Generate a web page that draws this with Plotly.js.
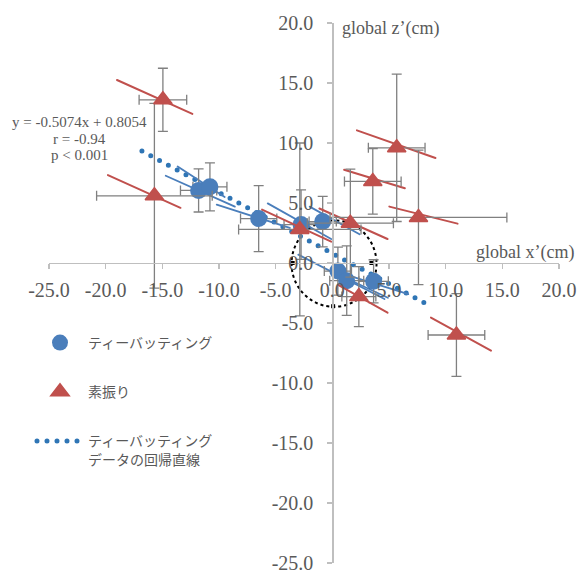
<!DOCTYPE html>
<html>
<head>
<meta charset="utf-8">
<script src="https://cdn.plot.ly/plotly-3.0.1.min.js"></script>
<style>
html,body{margin:0;padding:0;background:#fff;}
#chart{width:579px;height:574px;}
#chart path.js-line{stroke-linecap:round;}
</style>
</head>
<body>
<div id="chart"></div>
<script>
// ---- data ----
const blueName = 'ティーバッティング';
const redName = '素振り';
const regName = 'ティーバッティング<br>データの回帰直線';

const blueX = [-11.8, -10.8, -6.5, -2.76, -0.85, 0.49, 1.27, 3.64];
const blueZ = [6.05, 6.35, 3.7, 3.2, 3.45, -0.67, -1.47, -1.53];
const blueXErr = [1.6, 1.5, 1.6, 1.5, 1.2, 1.2, 1.5, 1.3];
const blueZErr = [1.8, 2.0, 2.75, 2.9, 2.1, 2.0, 2.9, 1.8];

const blueSegX0 = [-14.7, -13.65, -10.2, -5.7, -2.0, -3.0, 0.6, -0.1];
const blueSegY0 = [7.27, 8.04, 4.86, 4.97, 4.7, 0.7, -1.0, -0.6];
const blueSegX1 = [-8.6, -9.5, -3.75, -0.1, 2.4, 4.6, 4.9, 6.7];
const blueSegY1 = [4.7, 5.5, 2.92, 2.0, 2.4, -3.0, -2.9, -2.6];

const redX = [-14.95, -15.7, -2.87, 1.59, 3.57, 5.68, 7.6, 2.34, 10.95];
const redZ = [13.6, 5.6, 2.8, 3.32, 6.8, 9.6, 3.8, -2.8, -6.0];
const redXErr = [2.1, 5.1, 5.4, 3.8, 2.5, 2.5, 7.8, 1.5, 2.5];
const redZErr = [2.63, 7.7, 7.2, 4.5, 2.73, 6.14, 5.6, 2.5, 3.45];

const redSegX0 = [-19.0, -19.8, -6.2, -1.14, 1.04, 2.17, 5.03, 0.55, 8.7];
const redSegY0 = [15.25, 7.33, 4.45, 4.54, 7.77, 11.05, 4.7, -1.84, -4.55];
const redSegX1 = [-12.35, -13.4, -0.1, 4.87, 6.4, 9.1, 11.05, 4.87, 14.0];
const redSegY1 = [12.43, 4.6, 1.78, 2.0, 6.23, 8.75, 3.28, -4.14, -7.3];

const regX = [-16.8, 8.7];
const regY = [9.33, -3.61];

const circlePtX = [-3.5, 3.45, 0.07];
const circlePtY = [0, 0, -3.6];

const tickVals = [-25, -20, -15, -10, -5, 0, 5, 10, 15, 20];
const tickText = ['-25.0', '-20.0', '-15.0', '-10.0', '-5.0', '0.0', '5.0', '10.0', '15.0', '20.0'];

const eqLines = ['y = -0.5074x + 0.8054', 'r = -0.94', 'p &lt; 0.001'];
const xTitle = 'global x’(cm)';
const zTitle = 'global z’(cm)';

// ---- helpers ----
function segs(x0, y0, x1, y1) {
  const xs = [], ys = [];
  for (let i = 0; i < x0.length; i++) {
    xs.push(x0[i], x1[i], null);
    ys.push(y0[i], y1[i], null);
  }
  return {xs, ys};
}
const bs = segs(blueSegX0, blueSegY0, blueSegX1, blueSegY1);
const rs = segs(redSegX0, redSegY0, redSegX1, redSegY1);

const BLUE = '#4a7ebb', RED = '#c0504d', GRAY = '#808080', TXT = '#595959';
const errStyle = {type: 'data', color: GRAY, thickness: 1.3, width: 5};

const traces = [
  {x: regX, y: regY, mode: 'lines', name: regName, legendrank: 3, legendgroup: 'c',
   line: {color: '#2f75b5', width: 5, dash: '0px,10px'}},
  {x: circlePtX, y: circlePtY, mode: 'markers', showlegend: false,
   marker: {symbol: 'square', size: 4, color: '#000'}},
  {x: bs.xs, y: bs.ys, mode: 'lines', showlegend: false, line: {color: BLUE, width: 1.8}},
  {x: blueX, y: blueZ, mode: 'markers', name: blueName, legendrank: 1, legendgroup: 'a',
   marker: {symbol: 'circle', size: 17, color: BLUE},
   error_x: Object.assign({array: blueXErr}, errStyle),
   error_y: Object.assign({array: blueZErr}, errStyle)},
  {x: rs.xs, y: rs.ys, mode: 'lines', showlegend: false, line: {color: RED, width: 2}},
  {x: redX, y: redZ, mode: 'markers', name: redName, legendrank: 2, legendgroup: 'b',
   marker: {symbol: 'triangle-up', size: 16, color: RED, line: {color: RED, width: 1.5}},
   error_x: Object.assign({array: redXErr}, errStyle),
   error_y: Object.assign({array: redZErr}, errStyle)}
];

const L = 49, R = 20, T = 23, B = 11, W = 579, H = 574;
const pw = W - L - R, ph = H - T - B;
const px = v => (v - L) / pw;
const py = v => (H - B - v) / ph;

const axisCommon = {
  range: [-25, 20], tickvals: tickVals, ticktext: tickText,
  showgrid: false, zeroline: false, showline: true, linecolor: '#bfbfbf', linewidth: 1.3,
  ticks: 'outside', ticklen: 5, tickcolor: '#bfbfbf', tickwidth: 1.3,
  tickfont: {family: 'Liberation Serif, serif', size: 20, color: TXT},
  anchor: 'free', position: 25 / 45, fixedrange: true, automargin: false
};

const eqFont = {family: 'Liberation Serif, serif', size: 15, color: TXT};
const annotations = [
  {text: zTitle, xref: 'paper', yref: 'paper', x: px(340), y: py(28), xanchor: 'left', yanchor: 'middle',
   showarrow: false, font: {family: 'Liberation Serif, serif', size: 18, color: TXT}},
  {text: xTitle, xref: 'paper', yref: 'paper', x: px(474), y: py(252), xanchor: 'left', yanchor: 'middle',
   showarrow: false, font: {family: 'Liberation Serif, serif', size: 18, color: TXT}},
  {text: eqLines[0], xref: 'paper', yref: 'paper', x: px(79), y: py(122), xanchor: 'center', yanchor: 'middle', showarrow: false, font: eqFont},
  {text: eqLines[1], xref: 'paper', yref: 'paper', x: px(79), y: py(139), xanchor: 'center', yanchor: 'middle', showarrow: false, font: eqFont},
  {text: eqLines[2], xref: 'paper', yref: 'paper', x: px(79), y: py(155), xanchor: 'center', yanchor: 'middle', showarrow: false, font: eqFont}
];

const layout = {
  width: W, height: H,
  margin: {l: L, r: R, t: T, b: B, pad: 0},
  paper_bgcolor: '#fff', plot_bgcolor: '#fff',
  xaxis: Object.assign({}, axisCommon, {ticklabelstandoff: 4}),
  yaxis: Object.assign({}, axisCommon, {ticklabelstandoff: 10}),
  showlegend: true,
  legend: {
    x: px(32), y: py(327), xanchor: 'left', yanchor: 'top',
    bgcolor: 'rgba(0,0,0,0)', borderwidth: 0,
    font: {family: 'Noto Sans CJK JP, sans-serif', size: 14, color: TXT},
    itemwidth: 46, tracegroupgap: 28, valign: 'top', traceorder: 'grouped'
  },
  shapes: [
    {type: 'circle', xref: 'x', yref: 'y', x0: -3.6, x1: 3.9, y0: -3.65, y1: 3.55,
     line: {color: '#000', width: 2, dash: 'dot'}, layer: 'below'}
  ],
  annotations: annotations
};

Plotly.newPlot('chart', traces, layout, {staticPlot: true, displayModeBar: false});
</script>
</body>
</html>
